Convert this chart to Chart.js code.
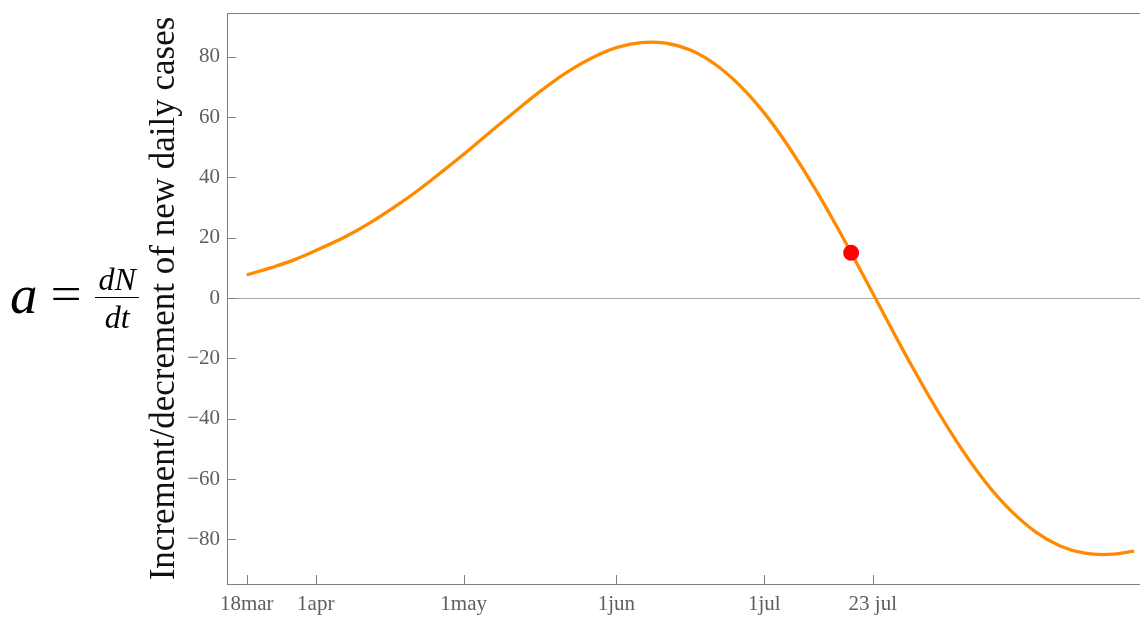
<!DOCTYPE html>
<html>
<head>
<meta charset="utf-8">
<script src="https://cdn.jsdelivr.net/npm/chart.js@4.4.1/dist/chart.umd.min.js"></script>
<style>
  html, body { margin: 0; padding: 0; background: #fff; overflow: hidden; }
  #wrap { position: relative; width: 1140px; height: 617px; }
  #c { position: absolute; left: 0; top: 0; }
  #lhs {
    position: absolute; left: 10px; top: 298px; transform: translateY(-50%);
    display: flex; align-items: center;
    font-family: 'Liberation Serif', serif; color: #000;
  }
  #lhs .a { font-style: italic; font-size: 55px; line-height: 1; position: relative; top: -4px; }
  #lhs .eq { font-size: 46px; line-height: 1; margin: 0 17px 0 15px; position: relative; top: -4px; transform: scaleX(1.2); }
  #lhs .frac { display: inline-flex; flex-direction: column; align-items: center; font-style: italic; font-size: 32px; line-height: 1.0; }
  #lhs .num { border-bottom: 1.3px solid #000; padding: 0 3px 2px 3px; }
  #lhs .den { padding-top: 3px; }
</style>
</head>
<body>
<div id="wrap">
  <canvas id="c" width="1140" height="617"></canvas>
  <div id="lhs"><span class="a">a</span><span class="eq">=</span><span class="frac"><span class="num">dN</span><span class="den">dt</span></span></div>
</div>
<script>
// Days counted from 18 March
const days = [0, 5, 10, 15, 20, 25, 30, 35, 40, 45, 50, 55, 60, 65, 70, 75, 80, 85, 90,
              95, 100, 105, 110, 115, 120, 125, 130, 135, 140, 145, 150, 155, 160, 165, 170, 175, 180];
// Daily change of new cases
const values = [7.7, 10.1, 12.9, 16.5, 20.3, 24.9, 30.2, 36.0, 42.4, 49.0, 55.9, 62.6, 69.1, 74.9, 79.6, 83.0, 84.7, 84.5, 82.2,
                77.5, 70.5, 61.3, 50.0, 37.0, 22.8, 7.7, -7.7, -22.8, -37.0, -50.0, -61.3, -70.5, -77.5, -82.2, -84.6, -85.0, -83.9];

// Highlighted point
const markDay = [122.6];
const markValue = [15];

// Axis ticks
const tickDays = [0, 14, 44, 75, 105, 127];
const tickLabels = ['18mar', '1apr', '1may', '1jun', '1jul', '23 jul'];
const yTicks = [-80, -60, -40, -20, 0, 20, 40, 60, 80];

const FRAME = '#808080';
const SERIF = "'Liberation Serif', 'DejaVu Serif', serif";

// Keep the plot frame exactly where the layout puts it
function noPad(s) {
  s.paddingLeft = 0; s.paddingRight = 0; s.paddingTop = 0; s.paddingBottom = 0;
}

// Short tick marks pointing into the plot frame
const innerTicks = {
  id: 'innerTicks',
  afterDraw(chart) {
    const { ctx, chartArea: a, scales } = chart;
    ctx.save();
    ctx.strokeStyle = FRAME;
    ctx.lineWidth = 1;
    ctx.beginPath();
    scales.x.ticks.forEach(t => {
      const px = Math.round(scales.x.getPixelForValue(t.value)) + 0.5;
      ctx.moveTo(px, a.bottom);
      ctx.lineTo(px, a.bottom - 9);
    });
    scales.y.ticks.forEach(t => {
      const py = Math.round(scales.y.getPixelForValue(t.value)) + 0.5;
      ctx.moveTo(a.left, py);
      ctx.lineTo(a.left + 9, py);
    });
    ctx.stroke();
    ctx.restore();
  }
};

new Chart(document.getElementById('c'), {
  type: 'line',
  data: {
    datasets: [
      {
        label: 'mark',
        data: markDay.map((d, i) => ({ x: d, y: markValue[i] })),
        showLine: false,
        pointRadius: 8,
        pointBackgroundColor: '#ff0000',
        pointBorderWidth: 0,
        order: 0
      },
      {
        label: 'a',
        data: days.map((d, i) => ({ x: d, y: values[i] })),
        borderColor: '#ff8a00',
        borderWidth: 3.3,
        pointRadius: 0,
        tension: 0.4,
        fill: false,
        order: 1
      }
    ]
  },
  options: {
    responsive: false,
    animation: false,
    devicePixelRatio: 1,
    layout: { autoPadding: false, padding: { left: 144, top: 13, right: 0, bottom: 0 } },
    plugins: { legend: { display: false }, tooltip: { enabled: false } },
    scales: {
      x: {
        type: 'linear',
        position: 'bottom',
        min: -4,
        max: 181.2,
        grid: { display: false, drawTicks: false },
        border: { display: true, color: FRAME, width: 1 },
        afterBuildTicks: s => { s.ticks = tickDays.map(v => ({ value: v })); },
        afterFit: s => { s.height = 33; noPad(s); },
        ticks: {
          autoSkip: false,
          maxRotation: 0,
          padding: 8,
          color: '#5e5e5e',
          font: { family: SERIF, size: 21 },
          callback: v => tickLabels[tickDays.indexOf(v)]
        }
      },
      x2: {
        type: 'linear',
        position: 'top',
        min: -4,
        max: 181.2,
        grid: { display: false, drawTicks: false },
        border: { display: true, color: FRAME, width: 1 },
        ticks: { display: false },
        afterFit: s => { s.height = 0; noPad(s); }
      },
      y: {
        type: 'linear',
        min: -94.8,
        max: 94.5,
        afterBuildTicks: s => { s.ticks = yTicks.map(v => ({ value: v })); },
        afterFit: s => { s.width = 83; noPad(s); },
        grid: {
          drawTicks: false,
          lineWidth: 1,
          color: c => (c.tick && c.tick.value === 0) ? '#a8a8a8' : 'rgba(0,0,0,0)'
        },
        border: { display: true, color: FRAME, width: 1 },
        ticks: {
          padding: 7,
          color: '#5e5e5e',
          font: { family: SERIF, size: 21 },
          callback: v => (v < 0 ? '\u2212' + Math.abs(v) : String(v))
        },
        title: {
          display: true,
          text: 'Increment/decrement of new daily cases',
          color: '#111',
          font: { family: SERIF, size: 35 },
          padding: { top: 0, bottom: 0 }
        }
      }
    }
  },
  plugins: [innerTicks]
});
</script>
</body>
</html>
